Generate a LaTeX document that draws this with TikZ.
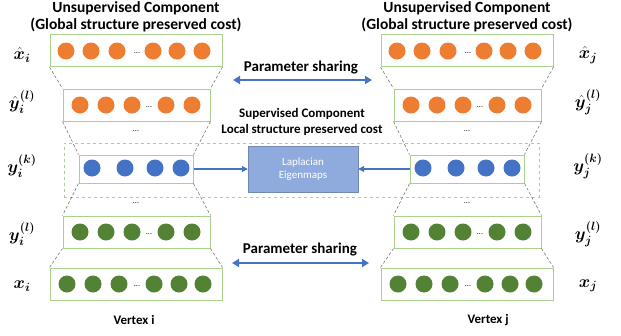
\documentclass[tikz,border=0pt]{standalone}
\usepackage{amsmath,bm}
\usepackage{fontspec}
\setmainfont{Carlito}
\usetikzlibrary{arrows.meta}
\definecolor{orng}{HTML}{ED7D31}
\definecolor{blu}{HTML}{4472C4}
\definecolor{grn}{HTML}{548235}
\definecolor{lgrn}{HTML}{A9D18E}
\definecolor{lapfill}{HTML}{8FAADC}
\begin{document}
\begin{tikzpicture}[x=1pt,y=-1pt,
  layer/.style={draw=lgrn,line width=1pt,fill=white,inner sep=0pt},
  dotn/.style={circle,inner sep=0pt,minimum size=17pt},
  od/.style={dotn,fill=orng},
  bd/.style={dotn,fill=blu},
  gd/.style={dotn,fill=grn},
  link/.style={draw=black!60,densely dashed,line width=0.5pt},
  lbl/.style={font=\fontsize{17}{19}\selectfont},
  ttl/.style={font=\fontsize{15.5}{17.5}\selectfont\bfseries,align=center},
  share/.style={draw=blu,line width=2pt,{Triangle[length=7pt,width=8pt]}-{Triangle[length=7pt,width=8pt]}},
  toLap/.style={draw=blu,line width=1.2pt,-{Triangle[length=6pt,width=6pt]}},
  small/.style={font=\fontsize{13}{15.5}\selectfont\bfseries,align=center},
  pstxt/.style={font=\fontsize{15}{17}\selectfont\bfseries},
  ell/.style={font=\fontsize{8}{9}\selectfont}
]
\useasboundingbox (0,0) rectangle (621,335);

% supervised dashed region
\node[draw=lgrn,dashed,line width=0.8pt,minimum width=475pt,minimum height=54pt,inner sep=0pt] (sup) at (301.5,170) {};

\foreach \s/\dx/\v in {L/0/i,R/331/j}{
  \node[layer,minimum width=172pt,minimum height=32pt] (xh\s) at (136+\dx,50.5) {};
  \node[layer,minimum width=147pt,minimum height=32pt] (yh\s) at (136.5+\dx,105) {};
  \node[layer,minimum width=114pt,minimum height=28pt] (yk\s) at (136+\dx,169) {};
  \node[layer,minimum width=147pt,minimum height=32pt] (yl\s) at (136.5+\dx,232) {};
  \node[layer,minimum width=172pt,minimum height=32pt] (x\s) at (136+\dx,284) {};
  % circles
  \foreach \cx [count=\n] in {66,91,117,153,177,202}{\node[od] (xh\s c\n) at (\cx+\dx,51) {};}
  \node[ell] (xh\s e) at (137+\dx,53) {...};
  \foreach \cx [count=\n] in {80,106,132,166,192}{\node[od] (yh\s c\n) at (\cx+\dx,105) {};}
  \node[ell] (yh\s e) at (149+\dx,107) {...};
  \foreach \cx [count=\n] in {92,125,155,181}{\node[bd] (yk\s c\n) at (\cx+\dx,168) {};}
  \foreach \cx [count=\n] in {80,106,132,166,192}{\node[gd] (yl\s c\n) at (\cx+\dx,232) {};}
  \node[ell] (yl\s e) at (149+\dx,234) {...};
  \foreach \cx [count=\n] in {67,93,119,154,179,203}{\node[gd] (x\s c\n) at (\cx+\dx,284) {};}
  \node[ell] (x\s e) at (137+\dx,286) {...};
  % vertical dots
  \node[ell] (d1\s) at (136+\dx,131) {...};
  \node[ell] (d2\s) at (136+\dx,203) {...};
  % funnel lines
  \draw[link] (xh\s.south west) -- (yh\s.north west);
  \draw[link] (xh\s.south east) -- (yh\s.north east);
  \draw[link] (yh\s.south west) -- (yk\s.north west);
  \draw[link] (yh\s.south east) -- (yk\s.north east);
  \draw[link] (yk\s.south west) -- (yl\s.north west);
  \draw[link] (yk\s.south east) -- (yl\s.north east);
  \draw[link] (yl\s.south west) -- (x\s.north west);
  \draw[link] (yl\s.south east) -- (x\s.north east);
  % title
  \node[ttl] (t\s) at (136+\dx,17) {Unsupervised Component\\(Global structure preserved cost)};
  \node[small] (v\s) at (134+\dx+\dx*0.07,320) {Vertex \v};
}

% math labels
\node[lbl] (lxhL) at (22,55) {$\hat{\bm{x}}_{\bm{i}}$};
\node[lbl] (lyhL) at (22,102) {$\hat{\bm{y}}_{\bm{i}}^{\bm{(l)}}$};
\node[lbl] (lykL) at (22,166) {$\bm{y}_{\bm{i}}^{\bm{(k)}}$};
\node[lbl] (lylL) at (22,234) {$\bm{y}_{\bm{i}}^{\bm{(l)}}$};
\node[lbl] (lxL) at (22,286) {$\bm{x}_{\bm{i}}$};
\node[lbl] (lxhR) at (588,55) {$\hat{\bm{x}}_{\bm{j}}$};
\node[lbl] (lyhR) at (588,102) {$\hat{\bm{y}}_{\bm{j}}^{\bm{(l)}}$};
\node[lbl] (lykR) at (588,166) {$\bm{y}_{\bm{j}}^{\bm{(k)}}$};
\node[lbl] (lylR) at (588,234) {$\bm{y}_{\bm{j}}^{\bm{(l)}}$};
\node[lbl] (lxR) at (588,286) {$\bm{x}_{\bm{j}}$};

% Laplacian
\node[fill=lapfill,draw=lapfill!80!black,line width=0.4pt,minimum width=110pt,minimum height=46pt,text=white,align=center,font=\fontsize{11}{13}\selectfont] (lap) at (303,169) {Laplacian\\Eigenmaps};
\draw[toLap] (ykL.east) -- (lap.west);
\draw[toLap] (ykR.west) -- (lap.east);

% supervised text
\node[small] (suptxt) at (302,122) {Supervised Component\\Local structure preserved cost};

% parameter sharing
\coordinate (ps1a) at (233,80);
\coordinate (ps1b) at (372,80);
\draw[share] (ps1a) -- (ps1b);
\node[pstxt] (ps1) at (301,68) {Parameter sharing};
\coordinate (ps2a) at (232,263);
\coordinate (ps2b) at (369,263);
\draw[share] (ps2a) -- (ps2b);
\node[pstxt] (ps2) at (300,250) {Parameter sharing};
\end{tikzpicture}
\end{document}
